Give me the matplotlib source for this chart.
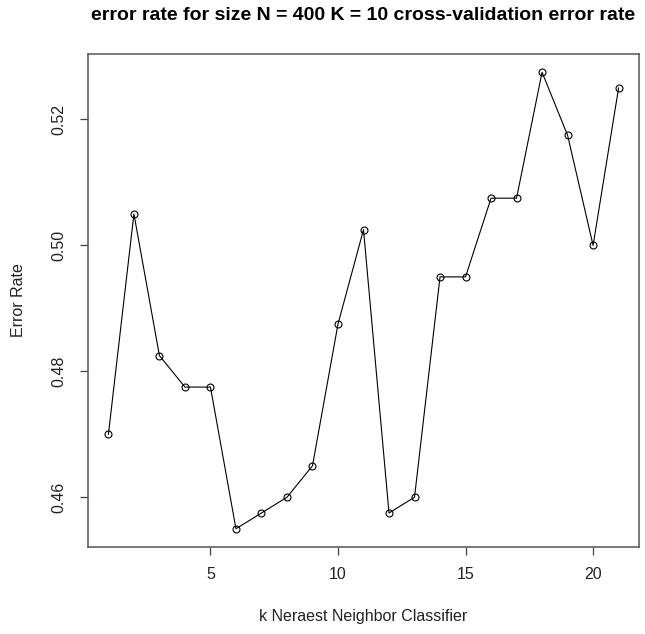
import numpy as np
import matplotlib.pyplot as plt
from matplotlib.ticker import FormatStrFormatter

# cross-validation error by number of neighbours
k = list(range(1, 22))
err_rate = [0.470, 0.505, 0.4825, 0.4775, 0.4775, 0.455, 0.4575, 0.460, 0.465, 0.4875,
            0.5025, 0.4575, 0.460, 0.495, 0.495, 0.5075, 0.5075, 0.5275, 0.5175, 0.500, 0.525]
xticks = [5, 10, 15, 20]
yticks = [0.46, 0.48, 0.50, 0.52]

plt.rcParams['font.family'] = ['Liberation Sans', 'DejaVu Sans']

W, H = 645, 634
fig = plt.figure(figsize=(W / 100, H / 100), dpi=100)
left, right, top, bottom = 88, 639, 54, 547
ax = fig.add_axes([left / W, 1 - bottom / H, (right - left) / W, (bottom - top) / H])

ax.plot(k, err_rate, color='black', linewidth=0.8, marker='o', markersize=5,
        markerfacecolor='none', markeredgecolor='black', markeredgewidth=0.8)

# R-style 4% padding on each axis
xr = max(k) - min(k)
ax.set_xlim(min(k) - 0.04 * xr, max(k) + 0.04 * xr)
yr = max(err_rate) - min(err_rate)
ax.set_ylim(min(err_rate) - 0.04 * yr, max(err_rate) + 0.04 * yr)

ax.set_xticks(xticks)
ax.set_yticks(yticks)
ax.yaxis.set_major_formatter(FormatStrFormatter('%.2f'))
ax.tick_params(direction='out', length=5.5, width=0.9, color='#444444',
               labelsize=11.5, labelcolor='#222222')
ax.tick_params(axis='x', pad=9)
ax.tick_params(axis='y', pad=10)
for lab in ax.get_yticklabels():
    lab.set_rotation(90)
    lab.set_va('center')

for s in ax.spines.values():
    s.set_color('#555555')
    s.set_linewidth(1.1)

cx = (left + right) / 2 / W
cy = 1 - (top + bottom) / 2 / H
fig.text(cx, 1 - 617 / H, 'k Neraest Neighbor Classifier', ha='center', va='center',
         fontsize=11.5, color='#222222')
fig.text(19 / W, cy, 'Error Rate', ha='center', va='center', rotation=90,
         fontsize=11.5, color='#222222')
fig.text(cx, 1 - 15 / H, 'error rate for size N = 400 K = 10 cross-validation error rate',
         ha='center', va='center', fontsize=14, fontweight='bold')

fig.savefig('out.png', dpi=100)
